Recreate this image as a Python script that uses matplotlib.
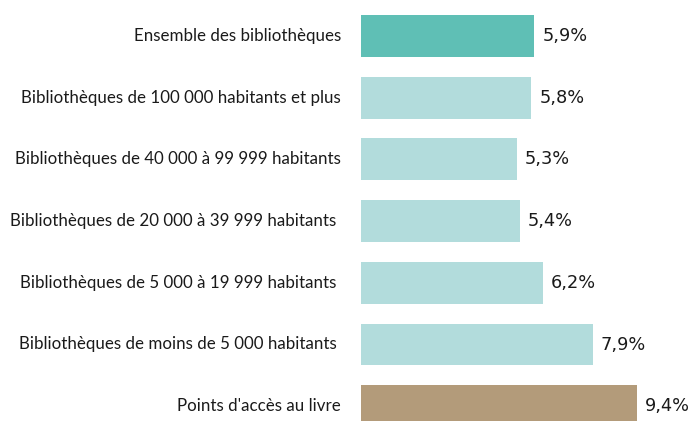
import matplotlib
matplotlib.use("Agg")
import matplotlib.pyplot as plt

categories = [
    "Ensemble des bibliothèques",
    "Bibliothèques de 100 000 habitants et plus",
    "Bibliothèques de 40 000 à 99 999 habitants",
    "Bibliothèques de 20 000 à 39 999 habitants ",
    "Bibliothèques de 5 000 à 19 999 habitants ",
    "Bibliothèques de moins de 5 000 habitants ",
    "Points d'accès au livre",
]
values = [5.9, 5.8, 5.3, 5.4, 6.2, 7.9, 9.4]
value_labels = ["5,9%", "5,8%", "5,3%", "5,4%", "6,2%", "7,9%", "9,4%"]
colors = ["#5fbfb5"] + ["#b2dcdc"] * 5 + ["#b39b7a"]

W, H = 692, 421
fig = plt.figure(figsize=(W / 100, H / 100), dpi=100)
x0 = 361
ax = fig.add_axes([x0 / W, 0, (W - x0) / W, 1])
pos = list(range(len(categories)))
ax.barh(pos, values, height=0.68, color=colors)
ax.set_xlim(0, (W - x0) / 29.36)
ax.set_ylim((H - 36) / 61.7, -36 / 61.7)
ax.axis("off")

for p, v, lab in zip(pos, values, value_labels):
    ax.text(v + 8 / 29.36, p, lab, va="center", ha="left",
            fontsize=12.8, family="DejaVu Sans", color="#1a1a1a")

for p, c in zip(pos, categories):
    ax.text(-20 / 29.36, p, c, va="center", ha="right",
            fontsize=12.2, family="Lato", color="#1a1a1a", clip_on=False)

fig.savefig("out.png", dpi=100)
